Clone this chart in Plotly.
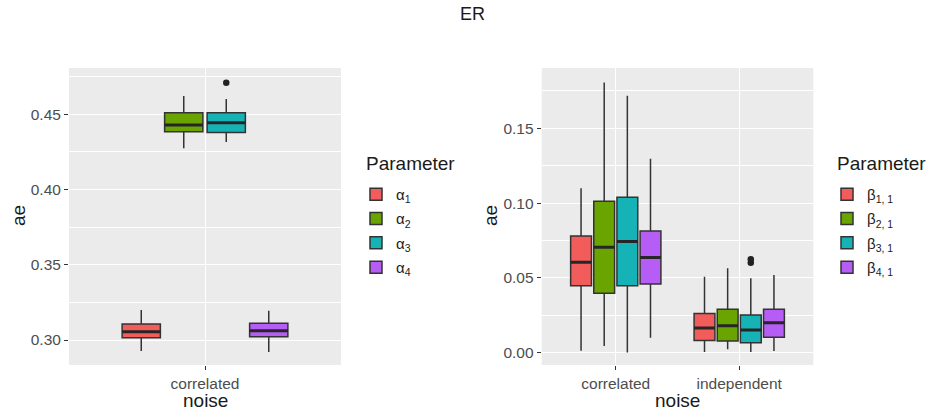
import plotly.graph_objects as go

# ---------------- data ----------------
left_params = ["α<sub>1</sub>", "α<sub>2</sub>", "α<sub>3</sub>", "α<sub>4</sub>"]
right_params = ["β<sub>1, 1</sub>", "β<sub>2, 1</sub>", "β<sub>3, 1</sub>", "β<sub>4, 1</sub>"]
left_noise = ["correlated"]
right_noise = ["correlated", "independent"]
colors = ["#F25C5A", "#6AA400", "#16B3B6", "#B65DF5"]

# left panel stats per parameter
left_low = [0.2927, 0.4274, 0.4316, 0.2920]
left_q1 = [0.3015, 0.4384, 0.4380, 0.3022]
left_med = [0.3055, 0.4429, 0.4444, 0.3062]
left_q3 = [0.3106, 0.4511, 0.4511, 0.3111]
left_up = [0.3199, 0.4622, 0.4602, 0.3195]
left_out = [[], [], [0.4710], []]

# right panel stats: per parameter, values for [correlated, independent]
right_low = [[0.0013, 0.0005], [0.0045, 0.0023], [0.0002, 0.0005], [0.0100, 0.0011]]
right_q1 = [[0.0448, 0.0081], [0.0397, 0.0078], [0.0448, 0.0067], [0.0460, 0.0103]]
right_med = [[0.0605, 0.0165], [0.0705, 0.0181], [0.0743, 0.0152], [0.0636, 0.0201]]
right_q3 = [[0.0781, 0.0263], [0.1013, 0.0290], [0.1039, 0.0252], [0.0814, 0.0290]]
right_up = [[0.1100, 0.0508], [0.1806, 0.0565], [0.1717, 0.0497], [0.1296, 0.0520]]
right_out = [[[], []], [[], []], [[], [0.0602, 0.0625]], [[], []]]

DODGE = 0.75 / 4
BOXW = DODGE * 0.9
OUTLINE = "#333333"
FONT = "Liberation Sans, Arial, sans-serif"

fig = go.Figure()

def add_box(xpos, low, q1, med, q3, up, color, name, xaxis, yaxis, legend):
    fig.add_trace(go.Box(
        x=xpos, q1=q1, median=med, q3=q3, lowerfence=low, upperfence=up,
        width=BOXW, fillcolor=color, line=dict(color=OUTLINE, width=1.5),
        name=name, legendgroup=legend + name, showlegend=True,
        xaxis=xaxis, yaxis=yaxis, legend=legend, whiskerwidth=0,
        boxpoints=False, hoverinfo="skip",
    ))
    # thicker median bar (ggplot fatten)
    mx, my = [], []
    for xv, mv in zip(xpos, med):
        mx += [xv - BOXW / 2, xv + BOXW / 2, None]
        my += [mv, mv, None]
    fig.add_trace(go.Scatter(x=mx, y=my, mode="lines", line=dict(color="#262626", width=3),
                             showlegend=False, xaxis=xaxis, yaxis=yaxis, hoverinfo="skip"))

def add_outliers(xs, ys, xaxis, yaxis):
    fig.add_trace(go.Scatter(x=xs, y=ys, mode="markers",
                             marker=dict(color="#222222", size=6.5), showlegend=False,
                             xaxis=xaxis, yaxis=yaxis, hoverinfo="skip"))

# left panel
for i, p in enumerate(left_params):
    off = (i - 1.5) * DODGE
    xs = [j + 1 + off for j in range(len(left_noise))]
    add_box(xs, [left_low[i]], [left_q1[i]], [left_med[i]], [left_q3[i]], [left_up[i]],
            colors[i], p, "x", "y", "legend")
    if left_out[i]:
        add_outliers([xs[0]] * len(left_out[i]), left_out[i], "x", "y")

# right panel
for i, p in enumerate(right_params):
    off = (i - 1.5) * DODGE
    xs = [j + 1 + off for j in range(len(right_noise))]
    add_box(xs, right_low[i], right_q1[i], right_med[i], right_q3[i], right_up[i],
            colors[i], p, "x2", "y2", "legend2")
    for j, outs in enumerate(right_out[i]):
        if outs:
            add_outliers([xs[j]] * len(outs), outs, "x2", "y2")

W, H = 933, 415
ydom = [1 - 365 / H, 1 - 68 / H]
tickfont = dict(family=FONT, size=15.5, color="#4D4D4D")

common_x = dict(showgrid=True, gridcolor="white", gridwidth=1.2, zeroline=False,
                ticks="outside", ticklen=4, tickcolor="#333333", tickfont=tickfont,
                showline=False)
common_y = dict(showgrid=True, gridcolor="white", gridwidth=1.2, zeroline=False,
                ticks="outside", ticklen=4, tickcolor="#333333", tickfont=tickfont,
                showline=False,
                minor=dict(showgrid=True, gridcolor="white", gridwidth=0.6, dtick=0.025, tick0=0))

legend_common = dict(xanchor="left", yanchor="top",
                     font=dict(family=FONT, size=15, color="#1A1A1A"), bgcolor="rgba(0,0,0,0)",
                     tracegroupgap=1.8, itemwidth=30)

def ann(text, x, y, size, angle=0, xanchor="center"):
    return dict(text=text, x=x / W, y=1 - y / H, xref="paper", yref="paper", textangle=angle,
                showarrow=False, font=dict(family=FONT, size=size, color="#1A1A1A"),
                xanchor=xanchor, yanchor="middle")

fig.update_layout(
    width=W, height=H,
    margin=dict(l=0, r=0, t=0, b=0),
    paper_bgcolor="white", plot_bgcolor="#EBEBEB",
    boxmode="overlay",
    font=dict(family=FONT, color="#1A1A1A"),
    xaxis=dict(domain=[69 / W, 341 / W], range=[0.4, 1.6], tickvals=[1], ticktext=left_noise,
               anchor="y", **common_x),
    yaxis=dict(domain=ydom, range=[0.2834, 0.4808], tickvals=[0.30, 0.35, 0.40, 0.45],
               ticktext=["0.30", "0.35", "0.40", "0.45"], anchor="x", **common_y),
    xaxis2=dict(domain=[541.7 / W, 813.3 / W], range=[0.4, 2.6], tickvals=[1, 2],
                ticktext=right_noise, anchor="y2", **common_x),
    yaxis2=dict(domain=ydom, range=[-0.0082, 0.1903], tickvals=[0.0, 0.05, 0.10, 0.15],
                ticktext=["0.00", "0.05", "0.10", "0.15"], anchor="x2", **common_y),
    legend=dict(x=356 / W, y=1 - 178 / H, **legend_common),
    legend2=dict(x=827 / W, y=1 - 178 / H, **legend_common),
    annotations=[
        ann("ER", 473, 14, 18),
        ann("ae", 18, 216, 19, angle=-90),
        ann("noise", 205, 400, 19),
        ann("ae", 490, 216, 19, angle=-90),
        ann("noise", 677, 400, 19),
        ann("Parameter", 364, 163, 19, xanchor="left"),
        ann("Parameter", 835, 163, 19, xanchor="left"),
    ],
)

fig.write_html("out.html", config={"displayModeBar": False},
               post_script="document.body.style.margin='0';document.body.style.overflow='hidden';")
